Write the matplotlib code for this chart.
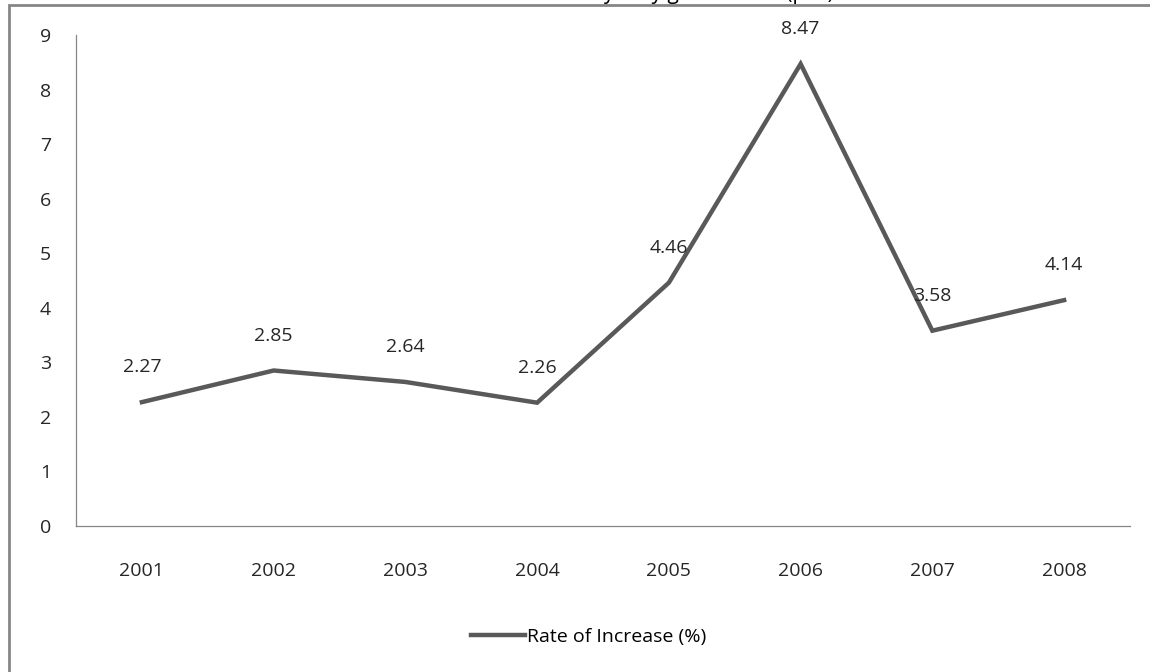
import matplotlib.pyplot as plt
from matplotlib.patches import Rectangle

years = ["2001", "2002", "2003", "2004", "2005", "2006", "2007", "2008"]
rate = [2.27, 2.85, 2.64, 2.26, 4.46, 8.47, 3.58, 4.14]
y_ticks = [0, 1, 2, 3, 4, 5, 6, 7, 8, 9]
title = "Rate of Increase in yearly growth rate (p.a.)"
series_name = "Rate of Increase (%)"

plt.rcParams["font.family"] = ["Open Sans", "DejaVu Sans"]

LINE_COLOR = "#595959"
TEXT_COLOR = "#262626"
FONT_SIZE = 14

fig = plt.figure(figsize=(11.5, 6.72), dpi=100)
ax = fig.add_axes([0.0661, 0.2173, 0.9165, 0.7306])

x = list(range(len(years)))
line, = ax.plot(x, rate, color=LINE_COLOR, linewidth=3.2, solid_joinstyle="miter",
                label=series_name)

for xi, v in zip(x, rate):
    ax.annotate(f"{v:.2f}", (xi, v), xytext=(0, 25), textcoords="offset points",
                ha="center", va="center", fontsize=FONT_SIZE, color=TEXT_COLOR)

ax.set_xlim(-0.5, len(years) - 0.5)
ax.set_ylim(0, 9)
ax.set_xticks(x)
ax.set_xticklabels(years)
ax.set_yticks(y_ticks)
ax.tick_params(axis="both", length=0, labelsize=FONT_SIZE, colors=TEXT_COLOR)
ax.tick_params(axis="x", pad=26)
ax.tick_params(axis="y", pad=18)

for side in ["top", "right"]:
    ax.spines[side].set_visible(False)
for side in ["left", "bottom"]:
    ax.spines[side].set_color("#868686")
    ax.spines[side].set_linewidth(0.9)

fig.legend(handles=[line], loc="center", bbox_to_anchor=(0.512, 0.052),
           frameon=False, fontsize=FONT_SIZE, handlelength=2.8, handletextpad=0.1)

# chart frame, cut off at the top and right like the original
fig.patches.append(Rectangle((9 / 1150, -0.1), 1.2, 1 - 5 / 672 + 0.1,
                             transform=fig.transFigure, fill=False,
                             edgecolor="#868686", linewidth=2.0))

fig.text(0.545, 1 + 1.5 / 672, title, ha="center", va="baseline",
         fontsize=15, color="black")

fig.savefig("out.png", dpi=100)
